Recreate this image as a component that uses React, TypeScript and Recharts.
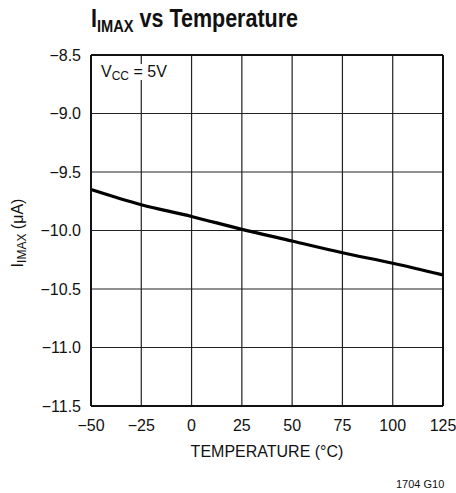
import { LineChart, Line, XAxis, YAxis, CartesianGrid, ReferenceLine } from "recharts";

const temperatures = [-50, -25, 0, 25, 50, 75, 100, 125];
const imaxValues = [-9.65, -9.78, -9.88, -9.99, -10.09, -10.19, -10.28, -10.38];
const xTicks = [-50, -25, 0, 25, 50, 75, 100, 125];
const yTicks = [-8.5, -9.0, -9.5, -10.0, -10.5, -11.0, -11.5];

const font = "'Liberation Sans Narrow', 'Liberation Sans', Arial, sans-serif";
const ink = "#111";

const data = temperatures.map((t, i) => ({ t, imax: imaxValues[i] }));

const minus = (s: string) => s.replace("-", "\u2212");

const abs = (left: number, top: number): React.CSSProperties => ({
  position: "absolute",
  left,
  top,
  fontFamily: font,
  color: ink,
  whiteSpace: "nowrap",
  lineHeight: 1,
});

export default function App() {
  return (
    <div style={{ position: "absolute", left: 0, top: 0, width: 456, height: 493, background: "#fff" }}>
      <LineChart
        width={456}
        height={493}
        data={data}
        margin={{ top: 55, right: 13, left: 0, bottom: 0 }}
      >
        <CartesianGrid stroke="#222" strokeWidth={1.2} />
        <XAxis
          dataKey="t"
          type="number"
          domain={[-50, 125]}
          ticks={xTicks}
          height={87}
          tickLine={false}
          tickSize={0}
          tickMargin={14}
          axisLine={{ stroke: ink, strokeWidth: 2 }}
          tick={{ fill: ink, fontSize: 16, fontFamily: font }}
          tickFormatter={(v: number) => minus(String(v))}
        />
        <YAxis
          type="number"
          domain={[-11.5, -8.5]}
          ticks={yTicks}
          width={91}
          tickLine={false}
          tickSize={0}
          tickMargin={10}
          axisLine={{ stroke: ink, strokeWidth: 2 }}
          tick={{ fill: ink, fontSize: 16, fontFamily: font }}
          tickFormatter={(v: number) => minus(v.toFixed(1))}
        />
        <ReferenceLine y={-8.5} stroke={ink} strokeWidth={2} />
        <ReferenceLine x={125} stroke={ink} strokeWidth={2} />
        <Line
          type="monotone"
          dataKey="imax"
          stroke="#000"
          strokeWidth={3.2}
          dot={false}
          isAnimationActive={false}
        />
      </LineChart>

      {/* title */}
      <div
        style={{
          ...abs(91, 6),
          fontSize: 25,
          fontWeight: 700,
          transform: "scaleX(0.86)",
          transformOrigin: "left center",
        }}
      >
        I<span style={{ fontSize: 17, position: "relative", top: 5 }}>IMAX</span> vs Temperature
      </div>

      {/* supply note */}
      <div style={{ ...abs(99, 64), fontSize: 16, background: "#fff", padding: "0 2px" }}>
        V<span style={{ fontSize: 12, position: "relative", top: 3 }}>CC</span> = 5V
      </div>

      {/* y axis label */}
      <div
        style={{
          ...abs(18, 233),
          fontSize: 16,
          transform: "translate(-50%, -50%) rotate(-90deg)",
        }}
      >
        I<span style={{ fontSize: 12, position: "relative", top: 3 }}>IMAX</span> (μA)
      </div>

      {/* x axis label */}
      <div style={{ ...abs(267, 452), fontSize: 16, transform: "translate(-50%, -50%)" }}>
        TEMPERATURE (°C)
      </div>

      <div style={{ ...abs(396, 479), fontSize: 11 }}>1704 G10</div>
    </div>
  );
}
